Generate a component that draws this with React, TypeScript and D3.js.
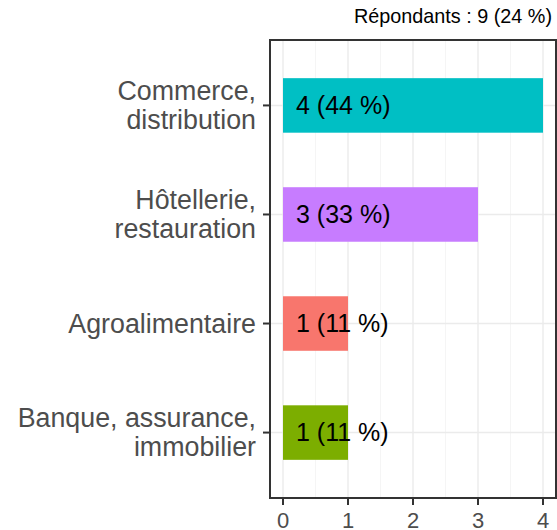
import React from 'react';
import * as d3 from 'd3';

const categories = ['Commerce, distribution', 'Hôtellerie, restauration', 'Agroalimentaire', 'Banque, assurance, immobilier'];
const categoryLines = [['Commerce,', 'distribution'], ['Hôtellerie,', 'restauration'], ['Agroalimentaire'], ['Banque, assurance,', 'immobilier']];
const counts = [4, 3, 1, 1];
const percents = [44, 33, 11, 11];
const colors = ['#00BFC4', '#C77CFF', '#F8766D', '#7CAE00'];
const xTicks = [0, 1, 2, 3, 4];
const xMinor = [0.5, 1.5, 2.5, 3.5];
const title = 'Répondants : 9 (24 %)';

const W = 557;
const H = 530;
const panel = { left: 270, right: 556, top: 40, bottom: 498 };
const font = '"Liberation Sans", Arial, sans-serif';

export default function App() {
    const x = d3.scaleLinear().domain([-0.2, 4.2]).range([panel.left, panel.right]);
    const y = d3.scalePoint<string>().domain(categories).range([panel.top, panel.bottom]).padding(0.6);
    const barH = y.step() * 0.5;
    const lineH = 29;

    return (
        <svg width={W} height={H} style={{ position: 'absolute', left: 0, top: 0, fontFamily: font }}>
            <rect x={0} y={0} width={W} height={H} fill="white" />
            <text x={552} y={23} textAnchor="end" fontSize={19.8} fill="black">{title}</text>

            {/* grid */}
            {xMinor.map(t => (
                <line key={'m' + t} x1={x(t)} x2={x(t)} y1={panel.top} y2={panel.bottom} stroke="#F2F2F2" strokeWidth={0.8} />
            ))}
            {xTicks.map(t => (
                <line key={'g' + t} x1={x(t)} x2={x(t)} y1={panel.top} y2={panel.bottom} stroke="#EBEBEB" strokeWidth={1.4} />
            ))}
            {categories.map(c => (
                <line key={'h' + c} x1={panel.left} x2={panel.right} y1={y(c)} y2={y(c)} stroke="#EBEBEB" strokeWidth={1.4} />
            ))}

            {/* bars */}
            {categories.map((c, i) => (
                <rect key={'b' + c} x={x(0)} y={(y(c) as number) - barH / 2} width={x(counts[i]) - x(0)} height={barH} fill={colors[i]} />
            ))}
            {categories.map((c, i) => (
                <text key={'l' + c} x={x(0.2)} y={y(c)} dy="0.35em" fontSize={25} fill="black">
                    {`${counts[i]} (${percents[i]} %)`}
                </text>
            ))}

            {/* border */}
            <rect x={panel.left} y={panel.top} width={panel.right - panel.left} height={panel.bottom - panel.top} fill="none" stroke="#333333" strokeWidth={2} />

            {/* y axis */}
            {categories.map((c, i) => {
                const lines = categoryLines[i];
                const cy = y(c) as number;
                const y0 = cy - ((lines.length - 1) * lineH) / 2;
                return (
                    <g key={'y' + c}>
                        <line x1={panel.left - 7} x2={panel.left} y1={cy} y2={cy} stroke="#333333" strokeWidth={2} />
                        <text x={256} textAnchor="end" fontSize={26.8} fill="#4D4D4D">
                            {lines.map((ln, j) => (
                                <tspan key={j} x={256} y={y0 + j * lineH} dy="0.35em">{ln}</tspan>
                            ))}
                        </text>
                    </g>
                );
            })}

            {/* x axis */}
            {xTicks.map(t => (
                <g key={'x' + t}>
                    <line x1={x(t)} x2={x(t)} y1={panel.bottom} y2={panel.bottom + 7} stroke="#333333" strokeWidth={2} />
                    <text x={x(t)} y={528} textAnchor="middle" fontSize={22} fill="#4D4D4D">{t}</text>
                </g>
            ))}
        </svg>
    );
}
